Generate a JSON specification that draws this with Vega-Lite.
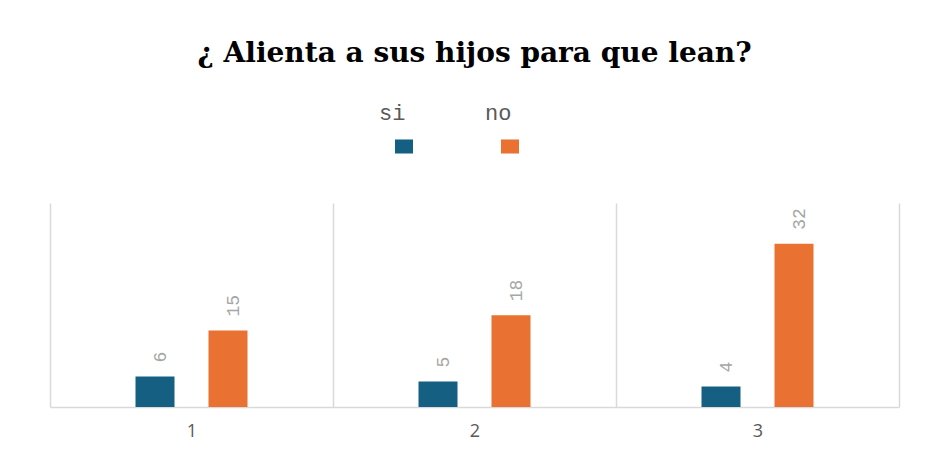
{
  "$schema": "https://vega.github.io/schema/vega-lite/v6.json",
  "width": 849,
  "height": 204,
  "autosize": {"type": "none"},
  "padding": {"left": 50, "top": 203, "right": 31, "bottom": 52},
  "background": "white",
  "title": {
    "text": "¿ Alienta a sus hijos para que lean?",
    "orient": "top",
    "frame": "group",
    "anchor": "middle",
    "font": "DejaVu Serif",
    "fontSize": 28,
    "fontWeight": "bold",
    "color": "#000000",
    "baseline": "alphabetic",
    "offset": 45
  },
  "data": {
    "values": [
      {"grupo": "1", "respuesta": "si", "valor": 6},
      {"grupo": "1", "respuesta": "no", "valor": 15},
      {"grupo": "2", "respuesta": "si", "valor": 5},
      {"grupo": "2", "respuesta": "no", "valor": 18},
      {"grupo": "3", "respuesta": "si", "valor": 4},
      {"grupo": "3", "respuesta": "no", "valor": 32}
    ]
  },
  "encoding": {
    "x": {
      "field": "grupo",
      "type": "nominal",
      "scale": {"paddingInner": 0, "paddingOuter": 0},
      "axis": {
        "title": null,
        "labelAngle": 0,
        "labelFont": "Open Sans",
        "labelFontSize": 18,
        "labelColor": "#595959",
        "labelPadding": 15,
        "ticks": false,
        "tickSize": 0,
        "domainColor": "#d9d9d9",
        "domainWidth": 1.5,
        "grid": true,
        "tickBand": "extent",
        "gridColor": "#d9d9d9",
        "gridWidth": 1.5
      }
    },
    "xOffset": {
      "field": "respuesta",
      "type": "nominal",
      "sort": ["si", "no"],
      "scale": {"paddingInner": 0.123, "paddingOuter": 1}
    },
    "y": {
      "field": "valor",
      "type": "quantitative",
      "scale": {"domain": [0, 40], "nice": false},
      "axis": null
    }
  },
  "layer": [
    {
      "mark": {"type": "bar", "width": 39},
      "encoding": {
        "color": {
          "field": "respuesta",
          "type": "nominal",
          "sort": ["si", "no"],
          "scale": {"domain": ["si", "no"], "range": ["#156082", "#E97132"]},
          "legend": {
            "title": null,
            "orient": "none",
            "direction": "horizontal",
            "legendX": 343,
            "legendY": -68,
            "symbolType": "M-1,-0.78H1V0.78H-1Z",
            "symbolSize": 324,
            "symbolStrokeWidth": 0,
            "labelFont": "Liberation Mono",
            "labelFontSize": 22,
            "labelColor": "#595959",
            "labelAlign": "left",
            "labelBaseline": "line-bottom",
            "labelOffset": -36,
            "columnPadding": 72
          }
        }
      }
    },
    {
      "mark": {
        "type": "text",
        "angle": 270,
        "align": "left",
        "baseline": "middle",
        "dx": 14,
        "dy": 6,
        "font": "Liberation Mono",
        "fontSize": 18,
        "color": "#a6a6a6"
      },
      "encoding": {
        "text": {"field": "valor", "type": "quantitative"}
      }
    }
  ],
  "config": {
    "view": {"stroke": null},
    "style": {"guide-label": {"lineHeight": 64}}
  }
}
